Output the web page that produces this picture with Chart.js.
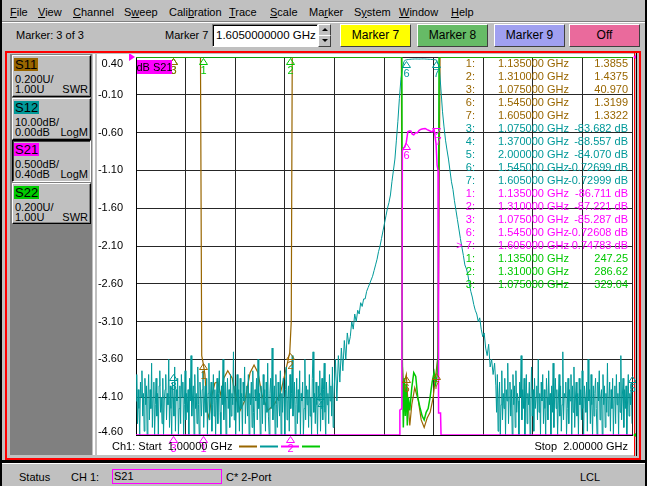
<!DOCTYPE html>
<html><head><meta charset="utf-8"><title>Network analyzer</title>
<script src="https://cdn.jsdelivr.net/npm/chart.js@4.4.0/dist/chart.umd.min.js"></script>
<style>
html,body{margin:0;padding:0;}
body{width:647px;height:486px;background:#c0c0c0;position:relative;overflow:hidden;font-family:"Liberation Sans",Arial,sans-serif;font-size:11px;color:#000;}
.a{position:absolute;white-space:nowrap;}
.menu{top:5px;line-height:14px;}
.btn{top:24px;height:21px;width:69px;line-height:21px;text-align:center;font-size:12px;border:1px solid;border-color:#fff #404040 #404040 #fff;}
.sbox{left:12px;width:77px;background:#c0c0c0;border:1px solid;border-color:#fff #000 #000 #fff;box-shadow:inset -1px -1px #808080;}
.sbox.sel{border-color:#000 #fff #fff #000;box-shadow:inset 1px 1px #404040;}
.chip{position:absolute;left:1px;top:2px;height:13px;line-height:13px;font-size:13px;padding:0 1px;}
.l1{position:absolute;left:2px;top:17px;line-height:12px;}
.l2{position:absolute;left:2px;top:27px;line-height:12px;}
.r2{position:absolute;right:2px;top:27px;line-height:12px;}
</style></head>
<body>
<!-- window edges -->
<div class="a" style="left:0;top:0;width:2px;height:486px;background:#000"></div>
<div class="a" style="left:645px;top:0;width:2px;height:486px;background:#000"></div>
<!-- menu bar -->
<span class="a menu" style="left:10px"><u>F</u>ile</span>
<span class="a menu" style="left:38px"><u>V</u>iew</span>
<span class="a menu" style="left:73px"><u>C</u>hannel</span>
<span class="a menu" style="left:124px">S<u>w</u>eep</span>
<span class="a menu" style="left:169px">Cali<u>b</u>ration</span>
<span class="a menu" style="left:229px"><u>T</u>race</span>
<span class="a menu" style="left:270px"><u>S</u>cale</span>
<span class="a menu" style="left:309px">Ma<u>r</u>ker</span>
<span class="a menu" style="left:354px">S<u>y</u>stem</span>
<span class="a menu" style="left:399px"><u>W</u>indow</span>
<span class="a menu" style="left:451px"><u>H</u>elp</span>
<div class="a" style="left:2px;top:21px;width:643px;height:0;border-top:1px solid #808080;border-bottom:1px solid #fff"></div>
<!-- toolbar -->
<span class="a" style="left:16px;top:28px;line-height:14px">Marker: 3 of 3</span>
<span class="a" style="left:165px;top:28px;line-height:14px">Marker 7</span>
<div class="a" style="left:212px;top:24px;background:#fff;border:1px solid;border-color:#808080 #fff #fff #808080;box-shadow:inset 1px 1px #000;font-size:11.5px;line-height:21px;padding-left:3px;box-sizing:border-box;width:106px;height:23px">1.6050000000 GHz</div>
<div class="a" style="left:318px;top:24px;width:11px;height:10px;border:1px solid;border-color:#fff #404040 #404040 #fff;background:#c0c0c0"><div style="position:absolute;left:3px;top:3px;width:0;height:0;border-left:3px solid transparent;border-right:3px solid transparent;border-bottom:3px solid #000"></div></div>
<div class="a" style="left:318px;top:35px;width:11px;height:10px;border:1px solid;border-color:#fff #404040 #404040 #fff;background:#c0c0c0"><div style="position:absolute;left:3px;top:3px;width:0;height:0;border-left:3px solid transparent;border-right:3px solid transparent;border-top:3px solid #000"></div></div>
<div class="a btn" style="left:340px;background:#ffff00">Marker 7</div>
<div class="a btn" style="left:417px;background:#66bb66">Marker 8</div>
<div class="a btn" style="left:494px;background:#a0a0f0">Marker 9</div>
<div class="a btn" style="left:569px;background:#ea6a9c">Off</div>
<!-- frame -->
<div class="a" style="left:5px;top:51px;width:632px;height:405px;border:2px solid #f00"></div>
<div class="a" style="left:2px;top:460px;width:643px;height:3px;background:#000"></div>
<div class="a" style="left:636px;top:53px;width:1px;height:403px;background:#000"></div>
<div class="a" style="left:634px;top:53px;width:1px;height:403px;background:#f00"></div>
<!-- left panel -->
<div class="a" style="left:10px;top:54px;width:82px;height:401px;background:#808080"></div>
<div class="a" style="left:93px;top:54px;width:2px;height:401px;background:#fff"></div>
<div class="a" style="left:97px;top:54px;width:537px;height:401px;background:#fff"></div>
<div class="a sbox" style="top:55px;height:40px"><span class="chip" style="background:#996600">S11</span><span class="l1">0.200U/</span><span class="l2">1.00U</span><span class="r2">SWR</span></div>
<div class="a sbox" style="top:98px;height:40px"><span class="chip" style="background:#009999">S12</span><span class="l1">10.00dB/</span><span class="l2">0.00dB</span><span class="r2">LogM</span></div>
<div class="a sbox sel" style="top:140px;height:40px"><span class="chip" style="background:#ff00ff">S21</span><span class="l1">0.500dB/</span><span class="l2">0.40dB</span><span class="r2">LogM</span></div>
<div class="a sbox" style="top:183px;height:39px"><span class="chip" style="background:#00cc00">S22</span><span class="l1">0.200U/</span><span class="l2">1.00U</span><span class="r2">SWR</span></div>
<!-- chart -->
<canvas id="c" width="539" height="401" style="position:absolute;left:97px;top:54px"></canvas>
<!-- status bar -->
<div class="a" style="left:2px;top:463px;width:643px;height:0;border-top:1px solid #fff"></div>
<span class="a" style="left:19px;top:470px;line-height:14px">Status</span>
<span class="a" style="left:71px;top:470px;line-height:14px">CH 1:</span>
<div class="a" style="left:112px;top:469px;width:107px;height:13px;border:1px solid #ff00ff;line-height:13px;padding-left:1px">S21</div>
<span class="a" style="left:226px;top:470px;line-height:14px">C* 2-Port</span>
<span class="a" style="left:580px;top:470px;line-height:14px">LCL</span>
<script>
// ===== data =====
const sweepStartGHz = 1.0;
const sweepStopGHz = 2.0;
const xGridGHz = [1.0,1.1,1.2,1.3,1.4,1.5,1.6,1.7,1.8,1.9,2.0];
const yTickLabels = [0.40,-0.10,-0.60,-1.10,-1.60,-2.10,-2.60,-3.10,-3.60,-4.10,-4.60];

// display scales
const s21Scale = {min:-4.6, max:0.4};
const s12Scale = {min:-100, max:0};
const s11Scale = {min:1.0, max:3.0};
const s22Scale = {min:1.0, max:3.0};

// S12 (dB), lower stopband: points 0.0015 GHz apart from 1.000 GHz
const s12LowStartGHz = 1.000, s12LowStepGHz = 0.0015;
const s12LowDb = [
-91,-84,-97,-88,-93,-102,-86,-90,-83,-95,
-89,-99,-85,-92,-87,-104,-90,-84,-96,-88,
-93,-81,-98,-90,-86,-101,-92,-85,-95,-89,
-100,-87,-83,-94,-90,-97,-85,-106,-91,-88,
-84,-96,-89,-92,-80,-98,-87,-93,-103,-86,
-90,-95,-82,-99,-88,-91,-85,-102,-93,-87,
-97,-84,-90,-86,-105,-92,-83,-96,-89,-94,
-88,-101,-85,-91,-79,-95,-90,-87,-100,-84,
-93,-89,-97,-82,-92,-104,-86,-90,-95,-88,
-83,-98,-91,-87,-94,-85,-102,-89,-81,-96,
-90,-86,-99,-92,-84,-95,-88,-107,-91,-85,
-97,-89,-83,-94,-100,-87,-92,-80,-96,-90,
-86,-103,-91,-85,-93,-88,-98,-84,-95,-89,
-92,-78,-96,-87,-101,-90,-84,-94,-88,-99,
-85,-93,-89,-105,-86,-91,-82,-97,-90,-87,
-95,-84,-100,-89,-92,-86,-98,-83,-94,-104,
-88,-91,-85,-96,-80,-93,-89,-102,-87,-90,
-97,-84,-92,-88,-99,-86,-94,-81,-95,-101,
-89,-85,-93,-77,-96,-90,-87,-103,-84,-92,
-98,-86,-91,-95,-83,-100,-89,-94,-85,-90,
-106,-88,-82,-96,-91,-87,-99,-84,-93,-89,
-79,-95,-90,-86,-102,-92,-85,-97,-88,-94,
-83,-100,-89,-91,-86,-104,-93,-80,-96,-87,
-92,-88,-98,-84,-95,-90,-101,-85,-78,-94,
-89,-97,-86,-92,-103,-87,-91,-83,-99,-90,
-85,-96,-88,-81,-94,-100,-86,-92,-89,-97,
-84,-91,-87,-95,-82,-98,-90
];
// S12 (dB), filter skirts and passband: points 0.003 GHz apart from 1.402 GHz
const s12BandStartGHz = 1.402, s12BandStepGHz = 0.003;
const s12BandDb = [
-80,-91,-79,-86,-77,-83,-75,-80,-73,-76,
-74,-70,-72,-68,-70,-67,-68,-65,-66,-64,
-64,-62,-61,-60,-59,-58,-56.5,-55,-53.5,-51.5,
-50,-48,-46,-44,-42,-40,-38.5,-36.5,-33,-30,
-27,-22,-17,-11,-6,-3,-1.3,-0.8,-0.73,-0.68,
-0.62,-0.58,-0.55,-0.53,-0.52,-0.53,-0.55,-0.54,-0.52,-0.51,
-0.52,-0.55,-0.58,-0.60,-0.62,-0.66,-0.70,-0.72,-0.80,-1.8,
-3.5,-9,-14.5,-18.5,-22,-24.6,-27,-30,-33,-35,
-38,-40.5,-43,-45.5,-48,-50.3,-52.5,-55,-56,-57.5,
-60,-62,-63.5,-65.5,-67,-68,-70,-69,-72,-74,
-73,-77,-79,-76,-82,-80,-84,-81
];
// S12 (dB), upper stopband: points 0.0015 GHz apart from 1.7255 GHz
const s12HighStartGHz = 1.7255, s12HighStepGHz = 0.0015;
const s12HighDb = [
-87,-94,-84,-99,-90,-86,-102,-92,-83,-96,
-89,-93,-85,-105,-88,-91,-81,-97,-90,-86,
-95,-88,-100,-84,-92,-87,-98,-83,-94,-89,
-91,-103,-86,-90,-79,-96,-88,-93,-85,-101,
-90,-84,-97,-89,-92,-86,-104,-91,-82,-95,
-88,-99,-85,-93,-90,-87,-96,-80,-94,-89,
-102,-86,-91,-84,-97,-88,-93,-100,-85,-90,
-96,-83,-92,-89,-106,-87,-94,-81,-98,-90,
-85,-93,-88,-101,-91,-84,-95,-87,-99,-92,
-78,-96,-89,-90,-86,-103,-93,-85,-97,-88,
-91,-84,-100,-87,-94,-82,-98,-90,-86,-95,
-89,-105,-85,-92,-88,-96,-83,-93,-101,-87,
-90,-94,-86,-99,-80,-91,-88,-97,-84,-92,
-102,-87,-95,-89,-85,-93,-100,-86,-91,-83,
-96,-90,-88,-104,-84,-92,-87,-98,-89,-94,
-81,-95,-91,-86,-99,-88,-93,-85,-101,-90,
-87,-97,-84,-92,-89,-103,-86,-94,-79,-96,
-90,-85,-98,-88,-93,-87,-100,-91,-84,-95,
-89,-92,-86,-97
];

// S21 (dB)
const s21FreqGHz = [1.000,1.075,1.135,1.310,1.531,1.532,1.536,1.537,1.540,1.542,1.545,1.548,1.551,1.554,1.557,1.560,1.564,1.567,1.571,1.575,1.579,1.583,1.587,1.592,1.597,1.601,1.605,1.607,1.609,1.610,1.614,1.615,1.750,2.000];
const s21Db      = [-86.2,-85.287,-86.711,-87.221,-86.0,-4.27,-4.25,-0.84,-0.80,-0.79,-0.726,-0.59,-0.58,-0.58,-0.62,-0.63,-0.60,-0.605,-0.57,-0.555,-0.55,-0.545,-0.56,-0.575,-0.59,-0.56,-0.748,-1.03,-1.10,-4.31,-4.31,-86.0,-85.5,-86.0];

// S11 (SWR)
const s11FreqGHz = [1.000,1.075,1.130,1.1325,1.135,1.139,1.143,1.147,1.153,1.159,1.165,1.171,1.177,1.185,1.194,1.200,1.210,1.220,1.230,1.238,1.246,1.254,1.266,1.278,1.290,1.300,1.306,1.310,1.313,1.315,1.535,1.537,1.540,1.542,1.545,1.548,1.552,1.556,1.562,1.569,1.575,1.581,1.587,1.593,1.599,1.603,1.605,1.609,1.613,2.000];
const s11Swr     = [38,40.970,35,1.42,1.3855,1.32,1.13,1.09,1.21,1.275,1.28,1.21,1.30,1.34,1.30,1.21,1.13,1.185,1.33,1.37,1.33,1.21,1.13,1.16,1.21,1.32,1.39,1.4375,1.6,38,38,1.37,1.22,1.29,1.3199,1.185,1.05,1.16,1.25,1.185,1.08,1.04,1.09,1.12,1.196,1.29,1.3322,1.42,38,38];

// S22 (SWR)
const s22FreqGHz = [1.000,1.075,1.135,1.310,1.536,1.537,1.539,1.541,1.543,1.545,1.547,1.549,1.552,1.556,1.560,1.564,1.568,1.573,1.577,1.581,1.585,1.589,1.593,1.597,1.601,1.604,1.607,1.609,1.611,2.000];
const s22Swr     = [300,329.04,247.25,286.62,300,1.39,1.04,1.30,1.10,1.27,1.05,1.20,1.13,1.25,1.33,1.31,1.20,1.14,1.10,1.08,1.12,1.14,1.20,1.28,1.33,1.27,1.31,1.45,300,300];

// markers (readouts)
const s11MarkerIds = [1,2,3,6,7];
const s11MarkerGHz = [1.135,1.310,1.075,1.545,1.605];
const s11MarkerVal = [1.3855,1.4375,40.970,1.3199,1.3322];
const s12MarkerIds = [3,4,5,6,7];
const s12MarkerGHz = [1.075,1.370,2.000,1.545,1.605];
const s12MarkerVal = [-83.682,-88.557,-84.070,-0.72699,-0.72999];
const s21MarkerIds = [1,2,3,6,7];
const s21MarkerGHz = [1.135,1.310,1.075,1.545,1.605];
const s21MarkerVal = [-86.711,-87.221,-85.287,-0.72608,-0.74783];
const s22MarkerIds = [1,2,3];
const s22MarkerGHz = [1.135,1.310,1.075];
const s22MarkerVal = [247.25,286.62,329.04];
const activeMarker = 7;

// ===== styling =====
const C11 = '#996600', C12 = '#009999', C21 = '#ff00ff', C22 = '#00c800';
const FONT = '11px "Liberation Sans", Arial, sans-serif';

function clampPts(freqs, vals, sc){
  return vals.map((v,i)=>({x:freqs[i], y:Math.max(sc.min, Math.min(sc.max, v))}));
}
function sweepFreqs(vals, start, step){ return vals.map((_,i)=>start + i*step); }
const s12FreqAll = [].concat(
  sweepFreqs(s12LowDb, s12LowStartGHz, s12LowStepGHz),
  sweepFreqs(s12BandDb, s12BandStartGHz, s12BandStepGHz),
  sweepFreqs(s12HighDb, s12HighStartGHz, s12HighStepGHz));
const s12DbAll = [].concat(s12LowDb, s12BandDb, s12HighDb);

const markerSets = [
  {name:'S22', ids:s22MarkerIds, f:s22MarkerGHz, v:s22MarkerVal, axis:'yS22', color:C22, unit:''},
  {name:'S21', ids:s21MarkerIds, f:s21MarkerGHz, v:s21MarkerVal, axis:'y', color:C21, unit:' dB', active:true},
  {name:'S12', ids:s12MarkerIds, f:s12MarkerGHz, v:s12MarkerVal, axis:'yS12', color:C12, unit:' dB'},
  {name:'S11', ids:s11MarkerIds, f:s11MarkerGHz, v:s11MarkerVal, axis:'yS11', color:C11, unit:''}
];
const tableOrder = ['S11','S12','S21','S22'];

const overlay = {
  id:'overlay',
  afterDatasetsDraw(chart){
    const {ctx, chartArea:a, scales} = chart;
    const xs = scales.x;
    ctx.save();
    ctx.font = FONT; ctx.textAlign='center'; ctx.textBaseline='middle';
    const refTri = (x, y, dir, col) => {
      ctx.fillStyle = col; ctx.beginPath();
      ctx.moveTo(x, y); ctx.lineTo(x - dir*6, y-4); ctx.lineTo(x - dir*6, y+4); ctx.closePath(); ctx.fill();
    };
    const yTop = scales.y.getPixelForValue(s21Scale.max);
    refTri(a.left-1, yTop, 1, C21);
    refTri(a.right+1, yTop, -1, C21);
    refTri(a.right+1, scales.yS22.getPixelForValue(s22Scale.min), -1, C22);
    markerSets.forEach(ms=>{
      const ys = scales[ms.axis];
      ctx.strokeStyle = ms.color; ctx.fillStyle = ms.color; ctx.lineWidth = 1;
      ms.ids.forEach((id,i)=>{
        const x = Math.round(xs.getPixelForValue(ms.f[i])) + 0.5;
        let y = ys.getPixelForValue(ms.v[i]);
        y = Math.round(Math.min(Math.max(y, a.top), a.bottom)) + 0.5;
        ctx.beginPath();
        if (ms.active && id === activeMarker){
          ctx.moveTo(x-4, y-16); ctx.lineTo(x+4, y-16); ctx.lineTo(x, y-10); ctx.closePath(); ctx.stroke();
          ctx.fillText(String(id), x+2, y-3);
        } else {
          ctx.moveTo(x, y+1); ctx.lineTo(x-4, y+7); ctx.lineTo(x+4, y+7); ctx.closePath(); ctx.stroke();
          ctx.fillText(String(id), x, y+13);
        }
      });
    });
    ctx.restore();
  },
  afterDraw(chart){
    const {ctx, chartArea:a, scales} = chart;
    ctx.save();
    ctx.font = FONT;
    ctx.fillStyle = '#000'; ctx.textAlign='right'; ctx.textBaseline='middle';
    yTickLabels.forEach(v=>{
      let y = scales.y.getPixelForValue(v);
      y = Math.min(Math.max(y, a.top+7), a.bottom-3);
      ctx.fillText(v.toFixed(2), a.left-13, y);
    });
    ctx.fillStyle = C21; ctx.fillRect(a.left+1, a.top+3, 35, 14);
    ctx.fillStyle = '#000'; ctx.textAlign='center';
    ctx.fillText('dB S21', a.left+18.5, a.top+10.5);
    let row = 0;
    tableOrder.forEach(name=>{
      const ms = markerSets.find(m=>m.name===name);
      ctx.fillStyle = ms.color;
      ms.ids.forEach((id,i)=>{
        const y = a.top + 7 + row*13;
        const isAct = ms.active && id===activeMarker;
        ctx.textAlign='right';
        ctx.fillText((isAct?'> ':'') + id + ':', a.right-157, y);
        ctx.textAlign='left';
        ctx.fillText(ms.f[i].toFixed(6)+' GHz', a.right-134, y);
        ctx.textAlign='right';
        ctx.fillText(ms.v[i].toPrecision(5)+ms.unit, a.right-4, y);
        row++;
      });
    });
    const fy = a.bottom + 12;
    ctx.fillStyle='#000'; ctx.textAlign='left';
    ctx.fillText('Ch1: Start  ' + sweepStartGHz.toFixed(5) + ' GHz', a.left-24, fy);
    ctx.textAlign='right';
    ctx.fillText('Stop  ' + sweepStopGHz.toFixed(5) + ' GHz', a.right-4, fy);
    [C11,C12,C21,C22].forEach((c,i)=>{
      ctx.strokeStyle=c; ctx.lineWidth=2; ctx.beginPath();
      ctx.moveTo(a.left+103+i*21, fy-0.5); ctx.lineTo(a.left+121+i*21, fy-0.5); ctx.stroke();
    });
    ctx.restore();
  }
};

const gridOpts = {color:'#262626', lineWidth:1, drawTicks:false};
new Chart(document.getElementById('c'), {
  type:'line',
  data:{datasets:[
    {label:'S21', data:clampPts(s21FreqGHz, s21Db, s21Scale), yAxisID:'y', borderColor:C21, borderWidth:1.5},
    {label:'S22', data:clampPts(s22FreqGHz, s22Swr, s22Scale), yAxisID:'yS22', borderColor:C22, borderWidth:1.5},
    {label:'S12', data:clampPts(s12FreqAll, s12DbAll, s12Scale), yAxisID:'yS12', borderColor:C12, borderWidth:1},
    {label:'S11', data:clampPts(s11FreqGHz, s11Swr, s11Scale), yAxisID:'yS11', borderColor:C11, borderWidth:1.2}
  ]},
  options:{
    responsive:false, animation:false, events:[],
    layout:{padding:{top:3,right:4,left:0,bottom:0}},
    plugins:{legend:{display:false}, tooltip:{enabled:false}},
    elements:{point:{radius:0}, line:{tension:0, fill:false}},
    scales:{
      x:{type:'linear', min:sweepStartGHz, max:sweepStopGHz, ticks:{display:false}, grid:gridOpts, border:{color:'#000', width:1},
         afterBuildTicks:s=>{s.ticks = xGridGHz.map(v=>({value:v}));}, afterFit:s=>{s.height=20;}},
      y:{type:'linear', position:'left', min:s21Scale.min, max:s21Scale.max, ticks:{display:false}, grid:gridOpts, border:{color:'#000', width:1},
         afterBuildTicks:s=>{s.ticks = yTickLabels.map(v=>({value:v}));}, afterFit:s=>{s.width=39;}},
      yS12:{type:'linear', display:false, min:s12Scale.min, max:s12Scale.max},
      yS11:{type:'linear', display:false, min:s11Scale.min, max:s11Scale.max},
      yS22:{type:'linear', display:false, min:s22Scale.min, max:s22Scale.max}
    }
  },
  plugins:[overlay]
});
</script>
</body></html>
